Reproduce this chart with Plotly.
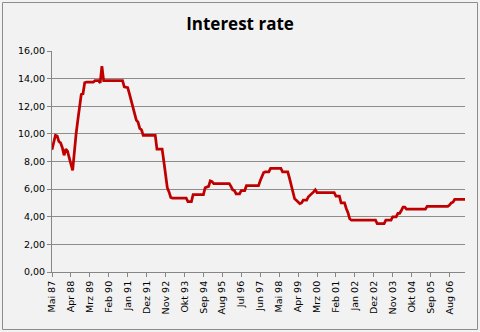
import plotly.graph_objects as go

# Monthly interest rate, Mai 87 .. Mai 07 (241 months)
rate_1987 = [8.85, 9.5, 9.9, 9.85, 9.45, 9.35, 9.0, 8.45]                      # Mai-Dez 87
rate_1988 = [8.9, 8.75, 8.2, 7.8, 7.35, 8.8, 10.0, 11.0, 12.0, 12.85, 12.9, 13.7]
rate_1989 = [13.75, 13.75, 13.75, 13.75, 13.75, 13.85, 13.85, 13.85, 13.7, 14.9, 13.85, 13.85]
rate_1990 = [13.85, 13.85, 13.85, 13.85, 13.85, 13.85, 13.85, 13.85, 13.85, 13.85, 13.4, 13.4]
rate_1991 = [13.35, 12.9, 12.4, 11.9, 11.4, 11.0, 10.85, 10.4, 10.3, 9.9, 9.9, 9.9]
rate_1992 = [9.9, 9.9, 9.9, 9.9, 9.9, 8.9, 8.9, 8.9, 8.9, 8.0, 7.0, 6.1]
rate_1993 = [5.8, 5.4, 5.35, 5.35, 5.35, 5.35, 5.35, 5.35, 5.35, 5.35, 5.35, 5.1]
rate_1994 = [5.1, 5.1, 5.6, 5.6, 5.6, 5.6, 5.6, 5.6, 5.6, 6.1, 6.15, 6.2]
rate_1995 = [6.6, 6.55, 6.4, 6.4, 6.4, 6.4, 6.4, 6.4, 6.4, 6.4, 6.4, 6.4]
rate_1996 = [6.2, 5.95, 5.9, 5.65, 5.65, 5.65, 5.9, 5.9, 5.9, 6.25, 6.25, 6.25]
rate_1997 = [6.25, 6.25, 6.25, 6.25, 6.25, 6.6, 6.95, 7.2, 7.25, 7.25, 7.25, 7.5]
rate_1998 = [7.5, 7.5, 7.5, 7.5, 7.5, 7.5, 7.25, 7.25, 7.25, 7.25, 6.8, 6.3]
rate_1999 = [5.8, 5.3, 5.2, 5.05, 4.95, 5.0, 5.2, 5.2, 5.2, 5.45, 5.55, 5.7]
rate_2000 = [5.8, 5.95, 5.75, 5.75, 5.75, 5.75, 5.75, 5.75, 5.75, 5.75, 5.75, 5.75]
rate_2001 = [5.75, 5.5, 5.5, 5.5, 5.0, 5.0, 5.0, 4.6, 4.3, 3.85, 3.75, 3.75]
rate_2002 = [3.75, 3.75, 3.75, 3.75, 3.75, 3.75, 3.75, 3.75, 3.75, 3.75, 3.75, 3.75]
rate_2003 = [3.75, 3.5, 3.5, 3.5, 3.5, 3.5, 3.75, 3.75, 3.75, 3.75, 4.0, 4.0]
rate_2004 = [4.0, 4.25, 4.25, 4.45, 4.7, 4.7, 4.55, 4.55, 4.55, 4.55, 4.55, 4.55]
rate_2005 = [4.55, 4.55, 4.55, 4.55, 4.55, 4.55, 4.75, 4.75, 4.75, 4.75, 4.75, 4.75]
rate_2006 = [4.75, 4.75, 4.75, 4.75, 4.75, 4.75, 4.75, 4.85, 5.0, 5.05, 5.25, 5.25]
rate_2007 = [5.25, 5.25, 5.25, 5.25, 5.25]                                      # Jan-Mai 07

rates = (rate_1987 + rate_1988 + rate_1989 + rate_1990 + rate_1991 + rate_1992 +
         rate_1993 + rate_1994 + rate_1995 + rate_1996 + rate_1997 + rate_1998 +
         rate_1999 + rate_2000 + rate_2001 + rate_2002 + rate_2003 + rate_2004 +
         rate_2005 + rate_2006 + rate_2007)

tick_labels = ["Mai 87", "Apr 88", "Mrz 89", "Feb 90", "Jan 91", "Dez 91", "Nov 92",
               "Okt 93", "Sep 94", "Aug 95", "Jul 96", "Jun 97", "Mai 98", "Apr 99",
               "Mrz 00", "Feb 01", "Jan 02", "Dez 02", "Nov 03", "Okt 04", "Sep 05",
               "Aug 06"]
label_step = 11

x_idx = list(range(len(rates)))
tick_pos = [i * label_step for i in range(len(tick_labels))]

W, H = 480, 332
ML, MR, MT, MB = 52, 15, 51, 60
pw, ph = W - ML - MR, H - MT - MB

fig = go.Figure()
fig.add_trace(go.Scatter(
    x=x_idx, y=rates, mode="lines",
    line=dict(color="#c00000", width=2.75),
    hoverinfo="skip", showlegend=False,
))

def px_to_paper_x(px):
    return (px - ML) / pw

def px_to_paper_y(py):
    return (H - MB - py) / ph

fig.add_shape(type="rect", xref="paper", yref="paper",
              x0=px_to_paper_x(2.5), x1=px_to_paper_x(W - 2.5),
              y0=px_to_paper_y(H - 2.5), y1=px_to_paper_y(2.5),
              line=dict(color="#8c8c8c", width=1), fillcolor="rgba(0,0,0,0)",
              layer="below")

fig.update_layout(
    width=W, height=H,
    margin=dict(l=ML, r=MR, t=MT, b=MB),
    paper_bgcolor="#f2f2f2", plot_bgcolor="#f2f2f2",
    separators=",.",
    title=dict(text="<b>Interest rate</b>", x=0.5, xanchor="center",
               y=1 - 24 / H, yanchor="middle",
               font=dict(family="Open Sans", size=17, color="#000000")),
    font=dict(family="DejaVu Sans", size=9.5, color="#000000"),
    xaxis=dict(
        range=[0, len(rates) - 1], tickmode="array", tickvals=tick_pos,
        ticktext=tick_labels, tickangle=-90, showgrid=False, zeroline=False,
        showline=True, linecolor="#868686", linewidth=1,
        ticks="outside", ticklen=4, tickcolor="#868686",
    ),
    yaxis=dict(
        range=[0, 16], dtick=2, tickformat=".2f", showgrid=True,
        gridcolor="#8c8c8c", gridwidth=1, zeroline=False,
        showline=True, linecolor="#868686", linewidth=1,
        ticks="outside", ticklen=4, tickcolor="#868686",
    ),
)

fig.write_html("out.html")
